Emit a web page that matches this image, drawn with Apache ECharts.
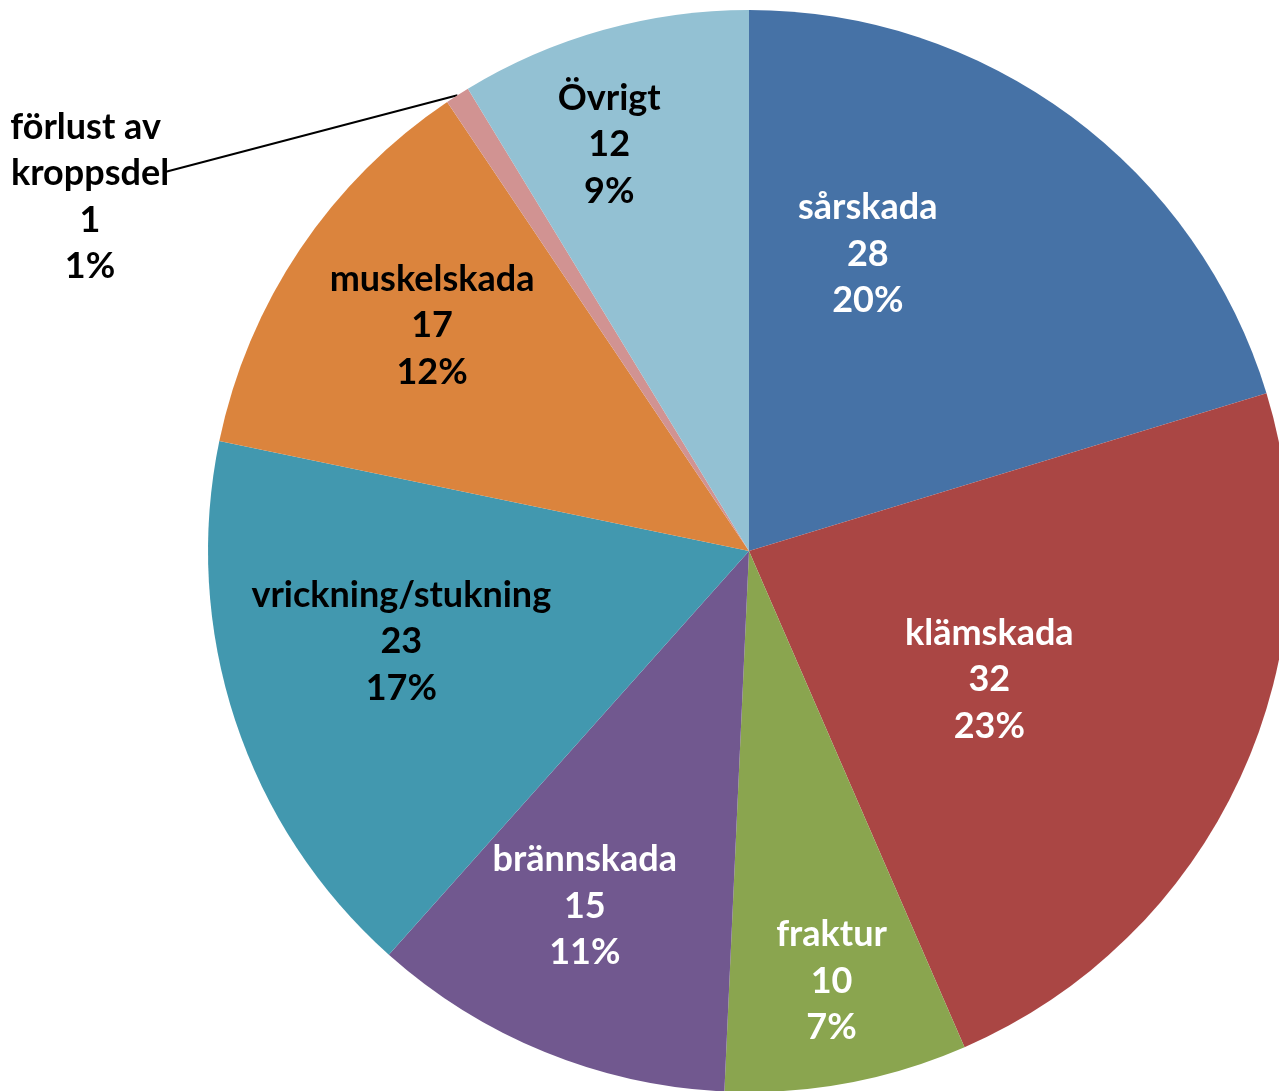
<!DOCTYPE html>
<html><head><meta charset="utf-8">
<script src="https://cdn.jsdelivr.net/npm/echarts@6/dist/echarts.min.js"></script>
<style>html,body{margin:0;padding:0;background:#fff}#c{width:1279px;height:1091px}</style>
</head><body><div id="c"></div>
<script>
const categories = ['sårskada','klämskada','fraktur','brännskada','vrickning/stukning','muskelskada','förlust av kroppsdel','Övrigt'];
const values = [28, 32, 10, 15, 23, 17, 1, 12];
const colors = ['#4672A6','#AA4644','#8AA54F','#71588F','#4298AF','#DB843D','#D19392','#93C1D3'];
const textColors = ['#fff','#fff','#fff','#fff','#000','#000','#000','#000'];
// label nudges relative to the default inside position
const labelOffsets = [[-44,-77],[-8,14],[33,161],[-61,102],[-88,5],[-90,-73],[0,0],[-66,-143]];

const chart = echarts.init(document.getElementById('c'));
const data = categories.map((n,i)=>{
  const item = {name:n, value:values[i], itemStyle:{color:colors[i]},
    label:{color:textColors[i], position:'inside', offset:labelOffsets[i]}};
  if (i === 6) {
    item.label = {color:textColors[i], position:'outside', width:180, overflow:'break', align:'center'};
    item.labelLine = {show:true, length:10, length2:10, lineStyle:{color:'#000', width:2}};
  }
  return item;
});
chart.setOption({
  animation:false,
  series:[{
    type:'pie',
    center:[749,551],
    radius:541,
    startAngle:90,
    clockwise:true,
    avoidLabelOverlap:false,
    data:data,
    label:{
      fontFamily:'Lato', fontWeight:'bold', fontSize:36, lineHeight:46.5,
      formatter:p=>p.name+'\n'+p.value+'\n'+Math.round(p.percent)+'%'
    },
    labelLayout:function(p){
      if (p.dataIndex === 6) {
        const s = p.labelLinePoints ? p.labelLinePoints[0] : [457,95];
        return {x:90, y:197, align:'center', verticalAlign:'middle',
                labelLinePoints:[s,[165,172]]};
      }
      return {};
    }
  }]
});
</script></body></html>
